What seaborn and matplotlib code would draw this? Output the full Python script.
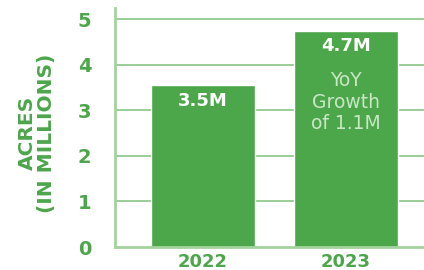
import matplotlib
matplotlib.use("Agg")
import matplotlib.pyplot as plt
import seaborn as sns
import pandas as pd

# chart data
years = ["2022", "2023"]
acres = [3.55, 4.74]
bar_labels = ["3.5M", "4.7M"]
growth_lines = ["YoY", "Growth", "of 1.1M"]
yticks = [0, 1, 2, 3, 4, 5]

green = "#4ca64a"
grid_green = "#7fc07a"
spine_green = "#a3d39e"
note_color = "#c9e6c5"

sns.set_theme(style="white")
plt.rcParams["font.family"] = ["DejaVu Sans"]

df = pd.DataFrame({"year": years, "acres": acres})

fig = plt.figure(figsize=(4.24, 2.70), dpi=100)
ax = fig.add_axes([0.271, 0.085, 0.729, 0.885])

sns.barplot(data=df, x="year", y="acres", color=green, saturation=1,
            width=0.727, ax=ax, zorder=3)

ax.set_xlim(-0.615, 1.545)
ax.set_ylim(0, 5.24)
ax.set_yticks(yticks)
for t in yticks[1:]:
    ax.axhline(t, color=grid_green, lw=1.1, zorder=1)

for side in ["top", "right"]:
    ax.spines[side].set_visible(False)
ax.spines["left"].set_color(spine_green)
ax.spines["left"].set_linewidth(2)
ax.spines["bottom"].set_color(spine_green)
ax.spines["bottom"].set_linewidth(2)
ax.spines["bottom"].set_zorder(4)

ax.tick_params(axis="y", length=0, pad=17, labelsize=14, labelcolor=green)
ax.tick_params(axis="x", length=0, pad=4, labelsize=13, labelcolor=green)
for lab in ax.get_yticklabels() + ax.get_xticklabels():
    lab.set_fontweight("bold")

ax.set_xlabel("")
ax.set_ylabel("ACRES\n(IN MILLIONS)", fontsize=14.5, fontweight="bold",
              color=green, linespacing=1.0)
ax.yaxis.set_label_coords(-0.19, 0.477)

for i, (v, lab) in enumerate(zip(acres, bar_labels)):
    ax.text(i, v - 0.34, lab, ha="center", va="center", color="white",
            fontsize=13, fontweight="bold", zorder=5)

# growth note inside the 2023 bar
for k, line in enumerate(growth_lines):
    ax.text(1, 3.66 - 0.48 * k, line, ha="center", va="center",
            color=note_color, fontsize=13.5, zorder=5)

fig.savefig("out.png", dpi=100)
